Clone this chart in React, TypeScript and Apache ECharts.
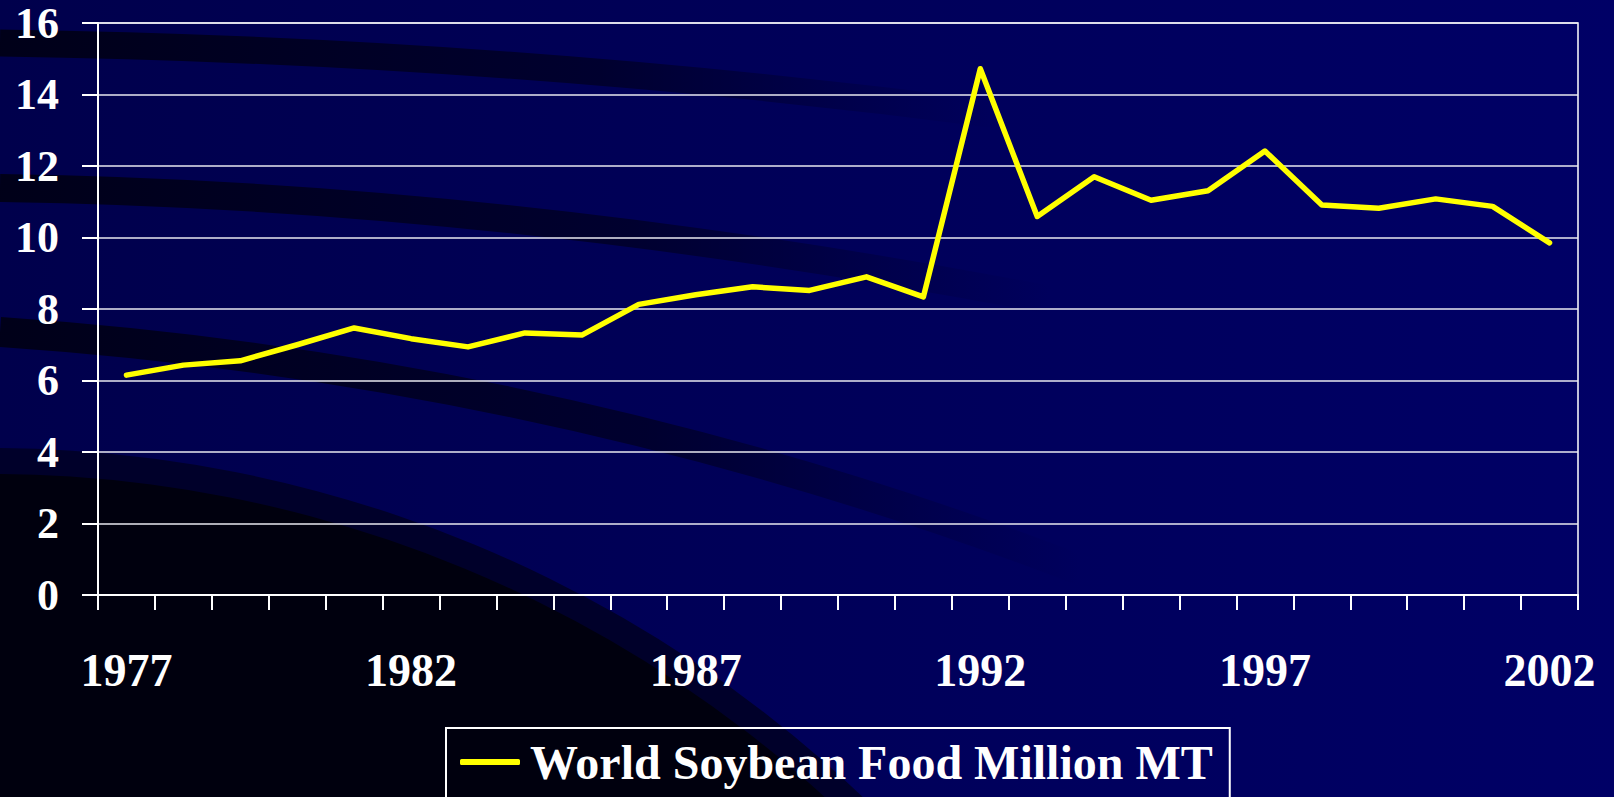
import React, { useEffect, useRef } from "react";
import * as echarts from "echarts";

const years = [
  "1977", "1978", "1979", "1980", "1981", "1982", "1983", "1984", "1985",
  "1986", "1987", "1988", "1989", "1990", "1991", "1992", "1993", "1994",
  "1995", "1996", "1997", "1998", "1999", "2000", "2001", "2002",
];
const soyFood = [
  6.15, 6.43, 6.55, 7.0, 7.47, 7.17, 6.94, 7.33, 7.27, 8.13, 8.4, 8.62,
  8.52, 8.9, 8.34, 14.72, 10.59, 11.7, 11.04, 11.31, 12.42, 10.91, 10.82,
  11.08, 10.87, 9.85,
];
const seriesName = "World Soybean Food Million MT";
const yMin = 0;
const yMax = 16;
const yStep = 2;

const FONT = "'Liberation Serif', 'Times New Roman', serif";

export default function App() {
  const ref = useRef<HTMLDivElement>(null);
  useEffect(() => {
    if (!ref.current) return;
    const chart = echarts.init(ref.current, undefined, { renderer: "svg" });
    const band = (x1: number, y1: number, cx: number, cy: number, x2: number, y2: number, w: number) => ({
      type: "bezierCurve",
      z: -10,
      silent: true,
      shape: { x1, y1, x2, y2, cpx1: cx, cpy1: cy },
      style: {
        fill: "none",
        lineWidth: w,
        stroke: {
          type: "linear", x: 0, y: 0, x2: 1, y2: 0,
          colorStops: [
            { offset: 0, color: "rgba(0,0,22,0.95)" },
            { offset: 0.6, color: "rgba(0,0,30,0.7)" },
            { offset: 1, color: "rgba(0,0,40,0)" },
          ],
        },
      },
    });
    chart.setOption({
      animation: false,
      backgroundColor: {
        type: "linear", x: 0, y: 0, x2: 1, y2: 0,
        colorStops: [
          { offset: 0, color: "#00004c" },
          { offset: 1, color: "#000066" },
        ],
      },
      graphic: [
        {
          type: "circle", z: -10, silent: true,
          shape: { cx: -11, cy: 1716, r: 1268 },
          style: { fill: "#00002a" },
        },
        {
          type: "circle", z: -10, silent: true,
          shape: { cx: -11, cy: 1716, r: 1242 },
          style: { fill: "#00000e" },
        },
        band(0, 43, 500, 50, 1000, 115, 27),
        band(0, 188, 500, 195, 1050, 300, 28),
        band(0, 332, 560, 370, 1080, 570, 30),
      ],
      grid: {
        left: 98, top: 23, right: 36, bottom: 202,
        show: true, borderColor: "#ffffff", borderWidth: 1.5,
        backgroundColor: "transparent",
      },
      legend: {
        show: true,
        data: [seriesName],
        left: 446,
        top: 728,
        orient: "horizontal",
        padding: [10, 17, 40, 14],
        borderColor: "#ffffff",
        borderWidth: 2,
        itemWidth: 60,
        itemHeight: 6,
        icon: "roundRect",
        itemStyle: { color: "#ffff00" },
        textStyle: {
          color: "#ffffff", fontFamily: FONT, fontWeight: "bold", fontSize: 48,
          padding: [0, 0, 0, 5],
        },
      },
      xAxis: {
        type: "category",
        data: years,
        boundaryGap: true,
        axisLine: { show: true, lineStyle: { color: "#ffffff", width: 2 } },
        axisTick: { show: true, interval: 0, length: 15, lineStyle: { color: "#ffffff", width: 2 } },
        axisLabel: {
          interval: 4, color: "#ffffff", fontFamily: FONT, fontWeight: "bold",
          fontSize: 46, margin: 52,
        },
        splitLine: { show: false },
      },
      yAxis: {
        type: "value",
        min: yMin, max: yMax, interval: yStep,
        axisLine: { show: true, lineStyle: { color: "#ffffff", width: 2 } },
        axisTick: { show: true, length: 16, lineStyle: { color: "#ffffff", width: 2 } },
        axisLabel: {
          color: "#ffffff", fontFamily: FONT, fontWeight: "bold", fontSize: 44,
          margin: 39, lineHeight: 36,
        },
        splitLine: { show: true, lineStyle: { color: "#e8e8f0", width: 1.5 } },
      },
      series: [
        {
          name: seriesName,
          type: "line",
          data: soyFood,
          symbol: "none",
          lineStyle: { color: "#ffff00", width: 5.5, cap: "round", join: "round" },
          itemStyle: { color: "#ffff00" },
        },
      ],
    });
    return () => chart.dispose();
  }, []);
  return (
    <div
      ref={ref}
      style={{ position: "fixed", left: 0, top: 0, width: 1614, height: 797 }}
    />
  );
}
